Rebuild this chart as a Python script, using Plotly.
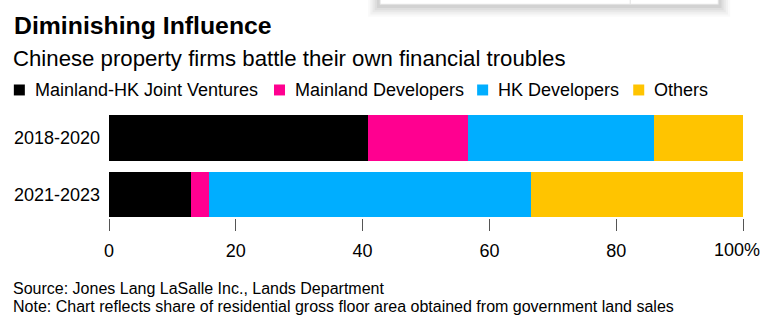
import plotly.graph_objects as go

# Share of residential gross floor area from government land sales (%)
periods = ["2018-2020", "2021-2023"]
series_names = ["Mainland-HK Joint Ventures", "Mainland Developers", "HK Developers", "Others"]
jv_share = [40.9, 13.0]
mainland_share = [15.8, 2.8]
hk_share = [29.3, 50.8]
others_share = [14.0, 33.4]
x_tick_vals = [0, 20, 40, 60, 80, 100]
x_tick_text = ["0", "20", "40", "60", "80", "100%"]

colors = ["#000000", "#ff0090", "#00aeff", "#ffc400"]
FONT = "Liberation Sans, Arial, sans-serif"

W, H = 765, 336
L, R = 109.1, 742.7          # plot area left / right in pixels
T, B = 109.6, 218.0          # plot area top / bottom in pixels


def px_x(px):
    return (px - L) / (R - L)


def px_y(py):
    return (B - py) / (B - T)


def label(text, x, y, size, anchor="left"):
    return dict(text=text, xref="paper", yref="paper", x=px_x(x), y=px_y(y),
                xanchor=anchor, yanchor="middle", showarrow=False,
                font=dict(family=FONT, size=size, color="#000000"))


fig = go.Figure()
for name, vals, col in zip(series_names, [jv_share, mainland_share, hk_share, others_share], colors):
    fig.add_trace(go.Bar(
        y=list(range(len(periods))), x=vals, name=name, orientation="h",
        marker=dict(color=col, line=dict(width=0)), width=0.805,
        showlegend=False, hoverinfo="x+name",
    ))

shapes = []
annotations = []

# Header block
annotations.append(label("<b>Diminishing Influence</b>", 12, 25, 24.8))
annotations.append(label("Chinese property firms battle their own financial troubles", 11, 57.5, 22.2))

# Legend row
sq_x = [14, 274, 477, 633]
txt_x = [33, 292.7, 496, 651.7]
for name, col, sx, tx in zip(series_names, colors, sq_x, txt_x):
    shapes.append(dict(type="rect", xref="paper", yref="paper",
                       x0=px_x(sx), x1=px_x(sx + 11), y0=px_y(95), y1=px_y(84),
                       fillcolor=col, line=dict(width=0)))
    annotations.append(label(name, tx, 89.5, 18))

# Last axis label is pulled in from the right edge so it stays on the page
annotations.append(label(x_tick_text[-1], 762, 250, 18, anchor="right"))

# Footer notes
annotations.append(label("Source: Jones Lang LaSalle Inc., Lands Department", 11, 288.5, 16))
annotations.append(label("Note: Chart reflects share of residential gross floor area obtained from government land sales",
                         11, 307, 16))

# Floating panel edge at the top of the page
for i, op in enumerate([0.025, 0.03, 0.035, 0.04, 0.05]):
    d = 12 - i * 2.2
    shapes.append(dict(type="rect", xref="paper", yref="paper",
                       x0=px_x(380 - d), x1=px_x(718 + d), y0=px_y(4 + d), y1=px_y(-20),
                       fillcolor="rgba(0,0,0,%.3f)" % op, line=dict(width=0), layer="above"))
shapes.append(dict(type="rect", xref="paper", yref="paper",
                   x0=px_x(380), x1=px_x(718), y0=px_y(3.5), y1=px_y(-20),
                   fillcolor="#ffffff", line=dict(color="#e2e2e2", width=1), layer="above"))
shapes.append(dict(type="line", xref="paper", yref="paper",
                   x0=px_x(630), x1=px_x(630), y0=px_y(3.5), y1=px_y(-2),
                   line=dict(color="#e2e2e2", width=1), layer="above"))

fig.update_layout(
    width=W, height=H,
    margin=dict(l=L, r=W - R, t=T, b=H - B, pad=0, autoexpand=False),
    barmode="stack", bargap=0,
    paper_bgcolor="#ffffff", plot_bgcolor="#ffffff",
    font=dict(family=FONT, size=18, color="#000000"),
    xaxis=dict(range=[0, 100], tickvals=x_tick_vals, ticktext=x_tick_text[:-1] + [""],
               ticks="outside", ticklen=12, tickwidth=1, tickcolor="#555555",
               showgrid=False, zeroline=False, showline=False, fixedrange=True,
               tickfont=dict(family=FONT, size=18, color="#000000"), ticklabelstandoff=4,
               automargin=False),
    yaxis=dict(range=[1.418, -0.5], tickvals=list(range(len(periods))), ticktext=periods,
               ticks="", showgrid=False, zeroline=False, showline=False, fixedrange=True,
               tickfont=dict(family=FONT, size=18, color="#000000"), ticklabelstandoff=8,
               automargin=False),
    shapes=shapes, annotations=annotations,
)

fig.write_html("out.html", config={"displayModeBar": False})
